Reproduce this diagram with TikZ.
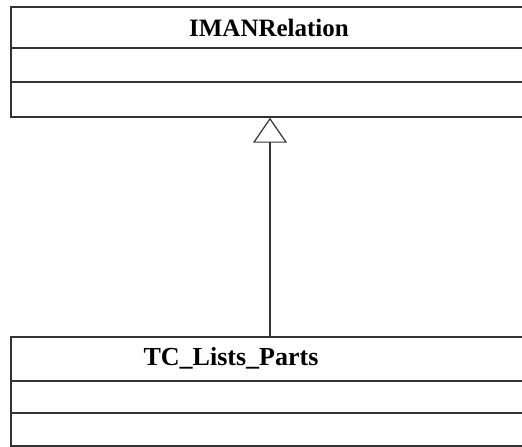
\documentclass[tikz,border=0pt]{standalone}
\usepackage{fontspec}
\setmainfont{Liberation Serif}
\usetikzlibrary{arrows.meta}
\begin{document}
\begin{tikzpicture}[x=1pt,y=1pt,
  umlline/.style={draw=black!80, line width=1.5pt},
  classbox/.style={umlline, rectangle, inner sep=0pt, minimum width=518pt},
  classname/.style={font=\fontsize{25}{30}\selectfont\bfseries, anchor=base, inner sep=0pt},
  inherit/.style={draw=black!80, line width=1.2pt, -{Triangle[open, length=25pt, width=34pt, line width=1.2pt]}}]
\useasboundingbox (0,0) rectangle (522,447);
% top class
\node[classbox, minimum height=110pt] (relbox) at (270,385) {};
\node[classname] (relname) at (269,410) {IMANRelation};
\draw[umlline] (relbox.west |- 0,399) -- (relbox.east |- 0,399);
\draw[umlline] (relbox.west |- 0,365) -- (relbox.east |- 0,365);
% bottom class
\node[classbox, minimum height=109pt] (partbox) at (270,55.5) {};
\node[classname, font=\fontsize{26}{30}\selectfont\bfseries] (partname) at (231,81) {TC\_Lists\_Parts};
\draw[umlline] (partbox.west |- 0,66) -- (partbox.east |- 0,66);
\draw[umlline] (partbox.west |- 0,34) -- (partbox.east |- 0,34);
% generalization
\draw[inherit] (partbox.north) -- (relbox.south);
\end{tikzpicture}
\end{document}
